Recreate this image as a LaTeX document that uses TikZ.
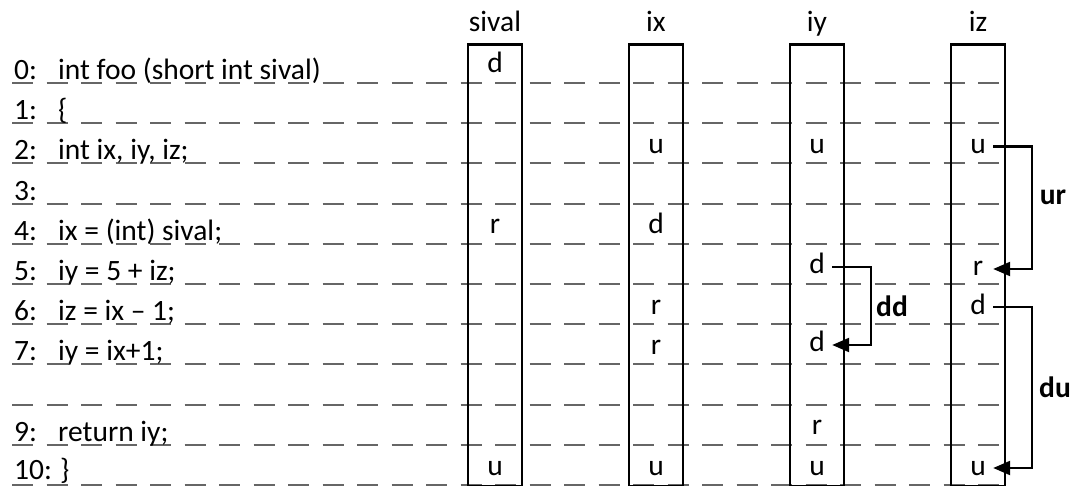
\documentclass[tikz,border=0pt]{standalone}
\usepackage{fontspec}
\setmainfont{Carlito}
\usetikzlibrary{arrows.meta}
\begin{document}
\begin{tikzpicture}[x=1pt,y=-1pt,
    font=\fontsize{29.5pt}{34pt}\selectfont,
    rowline/.style={black!60,line width=2pt,dash pattern=on 21pt off 13.5pt},
    colbox/.style={draw,line width=2.7pt,minimum width=54pt,minimum height=441pt,anchor=north,inner sep=0pt},
    colname/.style={anchor=base,inner sep=0pt},
    linenum/.style={anchor=base west,inner sep=0pt},
    codetext/.style={anchor=base west,inner sep=0pt},
    cellmark/.style={minimum width=30pt,inner sep=0pt,text height=14pt,text depth=0pt},
    dep/.style={line width=2.3pt,-{Triangle[length=17pt,width=14pt]}},
    deplabel/.style={font=\fontsize{29.5pt}{34pt}\selectfont\bfseries,inner sep=0pt}]
    \useasboundingbox (0,0) rectangle (1074,486);
    % dashed row lines
    \foreach \i in {0,...,10}
        \draw[rowline] ({12},{83+40.2*\i}) -- ({1000},{83+40.2*\i});
    % program lines
    \node[linenum] (n0) at (14,79.5) {0:};
    \node[codetext] (c0) at (58,79.5) {int foo (short int sival)};
    \node[linenum] (n1) at (14,119.7) {1:};
    \node[codetext] (c1) at (58,119.7) {\{};
    \node[linenum] (n2) at (14,159.9) {2:};
    \node[codetext] (c2) at (58,159.9) {int ix, iy, iz;};
    \node[linenum] (n3) at (14,200.1) {3:};
    \node[linenum] (n4) at (14,240.3) {4:};
    \node[codetext] (c4) at (58,240.3) {ix = (int) sival;};
    \node[linenum] (n5) at (14,280.5) {5:};
    \node[codetext] (c5) at (58,280.5) {iy = 5 + iz;};
    \node[linenum] (n6) at (14,320.7) {6:};
    \node[codetext] (c6) at (58,320.7) {iz = ix – 1;};
    \node[linenum] (n7) at (14,360.9) {7:};
    \node[codetext] (c7) at (58,360.9) {iy = ix+1;};
    \node[linenum] (n9) at (14,441.3) {9:};
    \node[codetext] (c9) at (58,441.3) {return iy;};
    \node[linenum] (n10) at (14,479.5) {10:};
    \node[codetext] (c10) at (60,479.5) {\}};
    % variable columns
    \node[colbox] (sivalbox) at (495,43.5) {};
    \node[colname] (sivalname) at (495,32) {sival};
    \node[colbox] (ixbox) at (656,43.5) {};
    \node[colname] (ixname) at (656,32) {ix};
    \node[colbox] (iybox) at (817,43.5) {};
    \node[colname] (iyname) at (817,32) {iy};
    \node[colbox] (izbox) at (978,43.5) {};
    \node[colname] (izname) at (978,32) {iz};
    % sival
    \node[cellmark] (sival0) at (495,66) {d};
    \node[cellmark] (sival4) at (495,226.8) {r};
    \node[cellmark] (sival10) at (495,468) {u};
    % ix
    \node[cellmark] (ix2) at (656,146.4) {u};
    \node[cellmark] (ix4) at (656,226.8) {d};
    \node[cellmark] (ix6) at (656,307.2) {r};
    \node[cellmark] (ix7) at (656,347.4) {r};
    \node[cellmark] (ix10) at (656,468) {u};
    % iy
    \node[cellmark] (iy2) at (817,146.4) {u};
    \node[cellmark] (iy5) at (817,267) {d};
    \node[cellmark] (iy7) at (817,345) {d};
    \node[cellmark] (iy9) at (817,427.8) {r};
    \node[cellmark] (iy10) at (817,468) {u};
    % iz
    \node[cellmark] (iz2) at (978,146.4) {u};
    \node[cellmark] (iz5) at (978,269) {r};
    \node[cellmark] (iz6) at (978,307.2) {d};
    \node[cellmark] (iz10) at (978,468) {u};
    % ur, dd, du chains
    \draw[dep] (iz2.east) -- ++(39,0) |- (iz5.east);
    \node[deplabel] (ur) at (1053,197) {ur};
    \draw[dep] (iy5.east) -- ++(39,0) |- (iy7.east);
    \node[deplabel] (dd) at (892,306) {dd};
    \draw[dep] (iz6.east) -- ++(39,0) |- (iz10.east);
    \node[deplabel] (du) at (1055,387) {du};
\end{tikzpicture}
\end{document}
